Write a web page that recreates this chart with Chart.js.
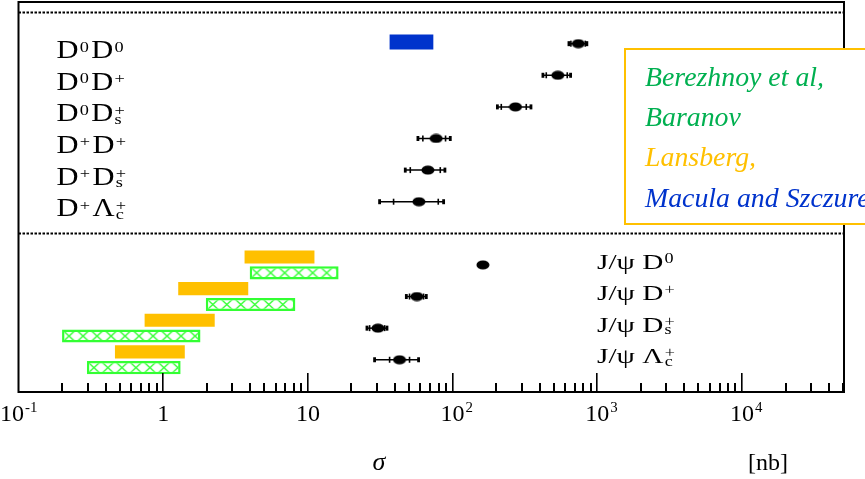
<!DOCTYPE html>
<html>
<head>
<meta charset="utf-8">
<script src="https://cdn.jsdelivr.net/npm/chart.js@4.4.0/dist/chart.umd.min.js"></script>
<style>
  html, body { margin: 0; padding: 0; background: #fff; }
  canvas { display: block; }
</style>
</head>
<body>
<canvas id="sigmaChart" width="865" height="479"></canvas>
<script>
// LHCb measured cross sections [nb]: central value, stat. range, total range
const ddLabels = ['D^0D^0', 'D^0D^+', 'D^0D_s^+', 'D^+D^+', 'D^+D_s^+', 'D^+Λ_c^+'];
const ddRows = [1, 2, 3, 4, 5, 6];
const ddSigma = [740, 534, 272, 77, 67.5, 58.5];
const ddStatLo = [657, 444, 217, 62.3, 51, 39.1];
const ddStatHi = [826, 620, 323, 89.4, 82.2, 79.6];
const ddTotLo = [637, 421, 204, 57.6, 47.1, 31.3];
const ddTotHi = [847, 654, 348, 96.4, 88.5, 86.7];

const psiLabels = ['J/ψ D^0', 'J/ψ D^+', 'J/ψ D_s^+', 'J/ψ Λ_c^+'];
const psiRows = [8, 9, 10, 11];
const psiSigma = [162, 56.7, 30.5, 43];
const psiStatLo = [158, 50.4, 26.7, 36.7];
const psiStatHi = [166, 63, 33.9, 50.4];
const psiTotLo = [154, 47.9, 25.6, 28.9];
const psiTotHi = [170, 65.8, 35.2, 58.2];

// theory predictions [nb]
const lansbergLo = [3.65, 1.27, 0.744, 0.464];
const lansbergHi = [11.1, 3.87, 2.27, 1.41];
const berezhnoyLo = [3.96, 1.97, 0.2, 0.297];
const berezhnoyHi = [16.3, 8.19, 1.81, 1.32];
const maculaLo = [36.7];
const maculaHi = [73.6];
const maculaRows = [0.95];

const xTickValues = [0.1, 1, 10, 100, 1000, 10000];
const xTickLabels = ['10^{-1}', '1', '10', '10^{2}', '10^{3}', '10^{4}'];

const legendLines = ['Berezhnoy et al,', 'Baranov', 'Lansberg,', 'Macula and Szczurek'];

const GREEN = '#00B050';
const HATCH = '#33FF33';
const ORANGE = '#FFC000';
const BLUE = '#0033CC';
const legendColors = [GREEN, GREEN, ORANGE, BLUE];
const SERIF = '"Liberation Serif", "DejaVu Serif", serif';

// black ellipse used as point marker
const dot = document.createElement('canvas');
dot.width = 14; dot.height = 10;
(function () {
    const g = dot.getContext('2d');
    g.fillStyle = '#000';
    g.beginPath();
    g.ellipse(7, 5, 6.5, 4.6, 0, 0, Math.PI * 2);
    g.fill();
})();

function hatch(ctx) {
    const chart = ctx.chart;
    if (!chart.chartArea || !ctx.raw) return '#fff';
    const c = document.createElement('canvas');
    c.width = 14; c.height = 13;
    const g = c.getContext('2d');
    g.fillStyle = '#fff';
    g.fillRect(0, 0, 14, 13);
    g.strokeStyle = HATCH;
    g.lineWidth = 1.3;
    g.beginPath();
    g.moveTo(0, 0); g.lineTo(14, 13);
    g.moveTo(14, 0); g.lineTo(0, 13);
    g.stroke();
    const p = chart.ctx.createPattern(c, 'repeat');
    const x0 = chart.scales.x.getPixelForValue(ctx.raw.x[0]);
    const y0 = chart.scales.y.getPixelForValue(ctx.raw.y) - 6.5;
    p.setTransform(new DOMMatrix([1, 0, 0, 1, x0, y0]));
    return p;
}

function parseRich(s) {
    const out = [];
    let i = 0;
    const grab = () => {
        if (s[i] === '{') {
            const j = s.indexOf('}', i);
            const t = s.slice(i + 1, j);
            i = j + 1;
            return t;
        }
        return s[i++];
    };
    while (i < s.length) {
        const c = s[i];
        if (c === '^') { i++; out.push({ sup: grab() }); }
        else if (c === '_') {
            i++;
            const tok = { sub: grab() };
            if (s[i] === '^') { i++; tok.sup = grab(); }
            out.push(tok);
        } else { out.push({ base: c }); i++; }
    }
    return out;
}

// draws (or just measures) text with super/subscripts, returns [baseWidth, totalWidth]
function richText(ctx, s, x, y, size, o, draw) {
    const small = size * (o.small || 0.52);
    const sx = o.sx || 1;
    let cx = 0, baseW = 0;
    ctx.save();
    ctx.translate(x, y);
    ctx.scale(sx, 1);
    ctx.textAlign = 'left';
    ctx.textBaseline = 'alphabetic';
    for (const t of parseRich(s)) {
        if (t.base !== undefined) {
            ctx.font = size + 'px ' + SERIF;
            if (draw) ctx.fillText(t.base, cx, 0);
            cx += ctx.measureText(t.base).width;
            baseW = cx;
        } else {
            ctx.font = small + 'px ' + SERIF;
            let w = 0;
            if (t.sup !== undefined) {
                if (draw) ctx.fillText(t.sup, cx + 1, -size * (o.rise || 0.27));
                w = Math.max(w, ctx.measureText(t.sup).width);
            }
            if (t.sub !== undefined) {
                if (draw) ctx.fillText(t.sub, cx + 1, size * 0.1);
                w = Math.max(w, ctx.measureText(t.sub).width);
            }
            cx += w + (o.gap || 2);
        }
    }
    ctx.restore();
    return [baseW * sx, cx * sx];
}

function errorBars(ctx, xs, ys, rows, sLo, sHi, tLo, tHi) {
    ctx.fillStyle = '#000';
    ctx.strokeStyle = '#000';
    ctx.lineWidth = 1.5;
    rows.forEach((r, i) => {
        const y = ys.getPixelForValue(r);
        const a = xs.getPixelForValue(tLo[i]), b = xs.getPixelForValue(tHi[i]);
        ctx.beginPath();
        ctx.moveTo(a, y); ctx.lineTo(b, y);
        ctx.stroke();
        [a, b].forEach(px => ctx.fillRect(px - 1.4, y - 2.5, 2.8, 5));
        [sLo[i], sHi[i]].forEach(v => {
            const px = xs.getPixelForValue(v);
            ctx.fillRect(px - 0.8, y - 3, 1.6, 6);
        });
    });
}

const decor = {
    id: 'decor',
    beforeDatasetsDraw(chart) {
        const ctx = chart.ctx, xs = chart.scales.x, ys = chart.scales.y;
        ctx.save();
        errorBars(ctx, xs, ys, ddRows, ddStatLo, ddStatHi, ddTotLo, ddTotHi);
        errorBars(ctx, xs, ys, psiRows, psiStatLo, psiStatHi, psiTotLo, psiTotHi);
        ctx.restore();
    },
    afterDraw(chart) {
        const ctx = chart.ctx, xs = chart.scales.x, ys = chart.scales.y;
        const { left, right, top, bottom } = chart.chartArea;
        ctx.save();

        // dotted separators
        ctx.strokeStyle = '#000';
        ctx.lineWidth = 2;
        ctx.setLineDash([2.5, 1.5]);
        [0, 7].forEach(v => {
            const y = Math.round(ys.getPixelForValue(v)) + 0.5;
            ctx.beginPath(); ctx.moveTo(left, y); ctx.lineTo(right, y); ctx.stroke();
        });
        ctx.setLineDash([]);

        // frame
        ctx.lineWidth = 2;
        ctx.beginPath();
        ctx.moveTo(left, top + 1); ctx.lineTo(right, top + 1);
        ctx.moveTo(left, top); ctx.lineTo(left, bottom + 1);
        ctx.moveTo(right, top); ctx.lineTo(right, bottom + 1);
        ctx.moveTo(left - 1, bottom); ctx.lineTo(right + 1, bottom);
        ctx.stroke();

        // tick marks pointing up into the plot
        for (let d = 0.1; d < xs.max; d *= 10) {
            for (let m = 1; m <= 9; m++) {
                const v = d * m;
                if (v > xs.max || v <= xs.min) continue;
                const px = Math.round(xs.getPixelForValue(v));
                const len = m === 1 ? 19 : 9;
                ctx.fillRect(px - 1, bottom - len, m === 1 ? 1.6 : 2, len);
            }
        }

        // tick labels
        ctx.fillStyle = '#000';
        xTickValues.forEach((v, i) => {
            const tx = xs.getPixelForValue(v);
            const opt = { small: 0.62, rise: 0.38, gap: 1 };
            const [bw, tw] = richText(ctx, xTickLabels[i], 0, 0, 24, opt, false);
            let x0 = tx - bw / 2;
            if (i === 0) x0 = Math.max(0, tx - tw / 2);
            richText(ctx, xTickLabels[i], x0, 421, 24, opt, true);
        });

        // axis titles
        ctx.font = 'italic 26px ' + SERIF;
        ctx.textAlign = 'center';
        ctx.textBaseline = 'alphabetic';
        ctx.fillText('σ', 379, 470);
        ctx.font = '24px ' + SERIF;
        ctx.textAlign = 'left';
        ctx.fillText('[nb]', 748, 470);

        // channel labels
        ddLabels.forEach((s, i) => {
            richText(ctx, s, 56.5, ys.getPixelForValue(ddRows[i]) + 14.6, 25, { sx: 1.22, small: 0.6, gap: 3 }, true);
        });
        psiLabels.forEach((s, i) => {
            richText(ctx, s, 597, ys.getPixelForValue(psiRows[i]) + 3.6, 22, { sx: 1.33, small: 0.62, gap: 2 }, true);
        });

        // theory legend box
        ctx.fillStyle = '#fff';
        ctx.fillRect(625, 49, 260, 175);
        ctx.strokeStyle = ORANGE;
        ctx.lineWidth = 2;
        ctx.strokeRect(625, 49, 260, 175);
        ctx.font = 'italic 26.5px ' + SERIF;
        ctx.textAlign = 'left';
        legendLines.forEach((t, i) => {
            ctx.save();
            ctx.translate(645, 85.7 + i * 40.3);
            ctx.scale(1.05, 1);
            ctx.fillStyle = legendColors[i];
            ctx.fillText(t, 0, 0);
            ctx.restore();
        });
        ctx.restore();
    }
};

const barOpts = { grouped: false, categoryPercentage: 1, borderSkipped: false };

new Chart(document.getElementById('sigmaChart').getContext('2d'), {
    type: 'bar',
    data: {
        datasets: [
            {
                label: 'Macula and Szczurek',
                data: maculaRows.map((r, i) => ({ x: [maculaLo[i], maculaHi[i]], y: r })),
                backgroundColor: BLUE,
                barPercentage: 0.95,
                ...barOpts
            },
            {
                label: 'Lansberg',
                data: psiRows.map((r, i) => ({ x: [lansbergLo[i], lansbergHi[i]], y: r - 0.25 })),
                backgroundColor: ORANGE,
                barPercentage: 0.83,
                ...barOpts
            },
            {
                label: 'Berezhnoy et al, Baranov',
                data: psiRows.map((r, i) => ({ x: [berezhnoyLo[i], berezhnoyHi[i]], y: r + 0.25 })),
                backgroundColor: hatch,
                borderColor: HATCH,
                borderWidth: 2.5,
                barPercentage: 0.83,
                ...barOpts
            },
            {
                type: 'scatter',
                label: 'LHCb',
                data: ddRows.map((r, i) => ({ x: ddSigma[i], y: r }))
                    .concat(psiRows.map((r, i) => ({ x: psiSigma[i], y: r }))),
                pointStyle: dot,
                pointRadius: 7
            }
        ]
    },
    options: {
        indexAxis: 'y',
        responsive: false,
        animation: false,
        layout: { autoPadding: false, padding: { left: 18.5, right: 21, top: 1, bottom: 87 } },
        scales: {
            x: {
                type: 'logarithmic',
                min: 0.1,
                max: 50700,
                offset: false,
                display: false
            },
            y: {
                type: 'linear',
                reverse: true,
                offset: false,
                min: -0.35,
                max: 12.02,
                display: false,
                afterBuildTicks: s => { s.ticks = ddRows.concat(psiRows).map(v => ({ value: v })); }
            }
        },
        plugins: {
            legend: { display: false },
            tooltip: { enabled: false }
        }
    },
    plugins: [decor]
});
</script>
</body>
</html>
